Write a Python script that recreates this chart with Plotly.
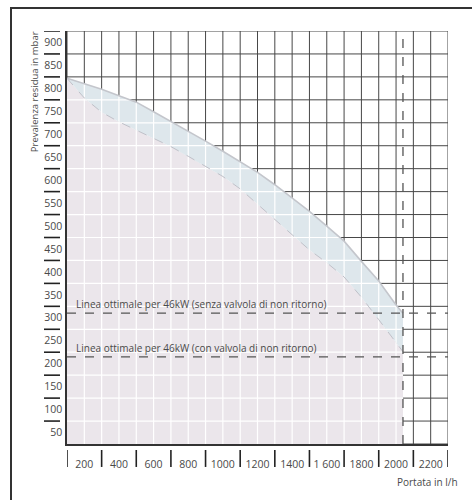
import numpy as np
import plotly.graph_objects as go

# ---- data ----
flow = [100, 200, 300, 400, 500, 600, 700, 800, 900, 1000, 1100, 1200, 1300, 1400, 1500, 1600, 1700, 1800, 1900, 2000, 2040]
head_upper = [822, 810, 798, 784, 770, 749, 728, 706, 685, 663, 640, 617, 590, 561, 532, 500, 467, 423, 380, 328, 310]
head_lower = [822, 779, 748, 727, 709, 691, 673, 652, 630, 608, 581, 547, 514, 481, 448, 420, 389, 345, 296, 246, 226]
optimal_lines = [310, 215]
optimal_labels = ["Linea ottimale per 46kW (senza valvola di non ritorno)",
                  "Linea ottimale per 46kW (con valvola di non ritorno)"]
nominal_flow = 2040
x_ticks = [200, 400, 600, 800, 1000, 1200, 1400, 1600, 1800, 2000, 2200]
x_ticktext = ["200", "400", "600", "800", "1000", "1200", "1400", "1 600", "1800", "2000", "2200"]
y_ticks = list(range(50, 901, 50))
x_range = [100, 2300]
y_range = [25, 925]
x_grid = list(range(100, 2301, 100))
y_grid = list(range(25, 926, 50))
x_marks = list(range(100, 2301, 200))
y_marks = list(range(75, 926, 50))

FONT = "Open Sans"
TXT = "#4a4a4a"
DARK = "#474747"
PINK = "#ebe6eb"
BLUE = "#dee7ec"

fig = go.Figure()

# dark grid over whole plot
gx, gy = [], []
for x in x_grid:
    gx += [x, x, None]; gy += [y_range[0], y_range[1], None]
for y in y_grid:
    gx += [x_range[0], x_range[1], None]; gy += [y, y, None]
fig.add_trace(go.Scatter(x=gx, y=gy, mode="lines", line=dict(color=DARK, width=1),
                         hoverinfo="skip", showlegend=False))

# pink area (below lower curve, down to bottom)
px = [flow[0]] + flow + [flow[-1], flow[0]]
py = [y_range[0]] + head_lower + [y_range[0], y_range[0]]
fig.add_trace(go.Scatter(x=px, y=py, mode="lines", fill="toself", fillcolor=PINK,
                         line=dict(width=0), hoverinfo="skip", showlegend=False))
# blue area between curves
bx = flow + flow[::-1]
by = head_upper + head_lower[::-1]
fig.add_trace(go.Scatter(x=bx, y=by, mode="lines", fill="toself", fillcolor=BLUE,
                         line=dict(width=0), hoverinfo="skip", showlegend=False))

# white grid inside the filled region
fu = np.array(flow, float); hu = np.array(head_upper, float)
wx, wy = [], []
for x in x_grid:
    if x_range[0] < x < nominal_flow:
        wx += [x, x, None]; wy += [y_range[0], float(np.interp(x, fu, hu)), None]
for y in y_grid:
    if y_range[0] < y < hu[0]:
        xe = nominal_flow if y <= hu[-1] else float(np.interp(y, hu[::-1], fu[::-1]))
        wx += [x_range[0], xe, None]; wy += [y, y, None]
fig.add_trace(go.Scatter(x=wx, y=wy, mode="lines", line=dict(color="white", width=1.2),
                         hoverinfo="skip", showlegend=False))

# curves
fig.add_trace(go.Scatter(x=flow, y=head_upper, mode="lines",
                         line=dict(color="#c4c6cc", width=1.6),
                         hoverinfo="skip", showlegend=False))
fig.add_trace(go.Scatter(x=flow, y=head_lower, mode="lines",
                         line=dict(color="#bfc0c8", width=1, dash="dash"),
                         hoverinfo="skip", showlegend=False))

# optimal lines
for yv in optimal_lines:
    fig.add_trace(go.Scatter(x=x_range, y=[yv, yv], mode="lines",
                             line=dict(color="#555555", width=1.3, dash="dash"),
                             hoverinfo="skip", showlegend=False))
fig.add_trace(go.Scatter(x=[nominal_flow, nominal_flow], y=y_range, mode="lines",
                         line=dict(color="#555555", width=1.3, dash="dash"),
                         hoverinfo="skip", showlegend=False))

annotations = []
# outer frame: an empty bordered box whose left/top edges show, rest runs off the figure
annotations.append(dict(x=-0.1496, y=1.0573, xref="paper", yref="paper", xanchor="left", yanchor="top",
                        text=" ", showarrow=False, width=700, height=700, borderpad=0,
                        bordercolor="#333333", borderwidth=2))
for yv, txt in zip(optimal_lines, optimal_labels):
    annotations.append(dict(x=x_range[0], y=yv, xref="x", yref="y", text=txt, showarrow=False,
                            xanchor="left", yanchor="bottom", xshift=7, yshift=0,
                            font=dict(family=FONT, size=10, color=TXT)))
annotations.append(dict(x=-0.0866, y=0.852, xref="paper", yref="paper",
                        xanchor="center", yanchor="middle",
                        text="Prevalenza residua in mbar", textangle=-90, showarrow=False,
                        font=dict(family=FONT, size=9.5, color=TXT)))
annotations.append(dict(x=1.031, y=-0.091, xref="paper", yref="paper", xanchor="right",
                        yanchor="middle",
                        text="Portata in l/h", showarrow=False,
                        font=dict(family=FONT, size=10, color=TXT)))

shapes = []
for ym in y_marks:
    shapes.append(dict(type="line", xref="paper", yref="y", x0=-0.0604, x1=-0.0184, y0=ym, y1=ym,
                       line=dict(color="#222222", width=1.6)))
for xm in x_marks:
    shapes.append(dict(type="line", xref="x", yref="paper", x0=xm, x1=xm, y0=-0.0145, y1=-0.0556,
                       line=dict(color="#222222", width=1.6)))

fig.update_layout(
    width=472, height=500,
    margin=dict(l=67, r=24, t=31, b=56),
    paper_bgcolor="white", plot_bgcolor="white",
    showlegend=False,
    annotations=annotations,
    shapes=shapes,
    xaxis=dict(range=x_range, tickvals=x_ticks, ticktext=x_ticktext, showgrid=False, zeroline=False,
               ticks="", showline=True, linecolor="#333333", linewidth=1.5,
               ticklabelstandoff=10, tickfont=dict(family=FONT, size=10.5, color=TXT)),
    yaxis=dict(range=y_range, tickvals=y_ticks, showgrid=False, zeroline=False,
               ticks="", showline=True, linecolor="#333333", linewidth=1.5,
               ticklabelstandoff=1, tickfont=dict(family=FONT, size=10.5, color=TXT)),
)

fig.write_html("out.html", config={"displayModeBar": False},
               post_script="document.body.style.margin='0px';document.body.style.overflow='hidden';document.documentElement.style.overflow='hidden';")
